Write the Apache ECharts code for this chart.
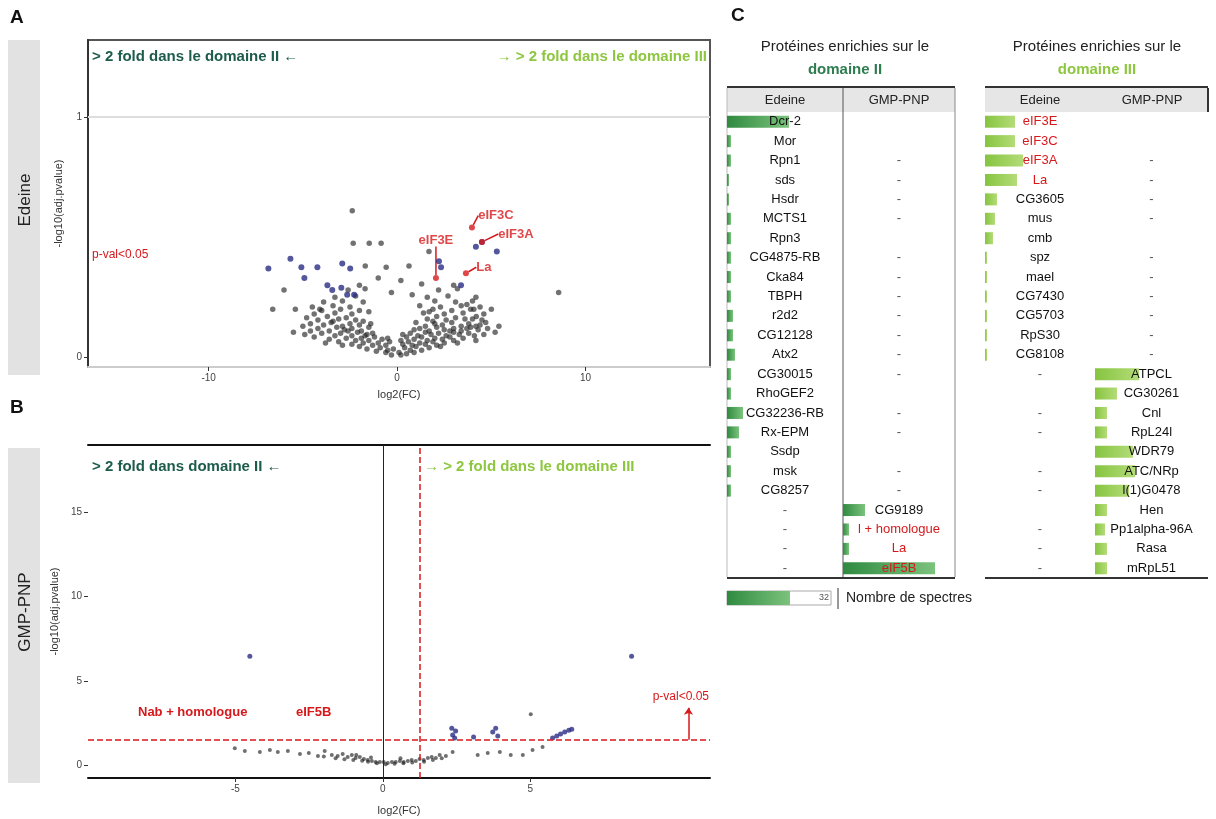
<!DOCTYPE html>
<html>
<head>
<meta charset="utf-8">
<script src="https://cdn.jsdelivr.net/npm/echarts@6/dist/echarts.min.js"></script>
<style>
  html, body { margin: 0; background: #fff; }
  #main { width: 1216px; height: 819px; }
</style>
</head>
<body>
<div id="main"></div>
<script>
// ---- A : Edeine volcano (log2 FC, -log10 adj p) ----
var edeineNS = [
  [-0.3,0.01],[0.2,0.01],[0.5,0.015],[-0.6,0.02],[0.9,0.02],
  [-1.1,0.025],[-0.5,0.03],[0.1,0.02],[0.7,0.03],[1.3,0.03],
  [-1.6,0.035],[-0.9,0.04],[-0.2,0.035],[0.4,0.04],[1.0,0.045],[1.7,0.04],
  [-2.0,0.045],[-1.3,0.05],[-0.6,0.05],[0.3,0.055],[0.8,0.05],[1.5,0.055],[2.1,0.05],
  [-2.4,0.055],[-1.8,0.06],[-1.0,0.06],[-0.4,0.065],[0.6,0.065],[1.2,0.06],[1.9,0.065],[2.5,0.06],
  [-3.1,0.065],[-2.2,0.07],[-1.5,0.07],[-0.8,0.075],[0.2,0.07],[0.9,0.075],[1.6,0.07],[2.4,0.075],[3.0,0.07],
  [-3.6,0.075],[-2.7,0.08],[-1.9,0.08],[-1.2,0.085],[-0.5,0.08],[0.5,0.085],[1.3,0.085],[2.0,0.08],[2.8,0.085],[3.5,0.08],
  [-4.4,0.085],[-3.3,0.09],[-2.4,0.09],[-1.6,0.095],[0.3,0.095],[1.1,0.09],[1.8,0.095],[2.6,0.09],[3.3,0.095],[4.1,0.09],
  [-4.9,0.095],[-4.0,0.1],[-3.0,0.1],[-2.1,0.105],[-1.3,0.1],[0.7,0.1],[1.5,0.105],[2.2,0.1],[3.0,0.105],[3.8,0.1],[4.6,0.095],
  [-5.5,0.105],[-4.6,0.11],[-3.6,0.11],[-2.8,0.115],[-1.9,0.11],[0.9,0.115],[1.7,0.11],[2.5,0.115],[3.4,0.11],[4.3,0.115],[5.2,0.105],
  [-4.2,0.12],[-3.2,0.125],[-2.4,0.12],[-1.5,0.125],[1.2,0.12],[2.1,0.125],[3.0,0.12],[3.9,0.125],[4.8,0.12],
  [-5.0,0.13],[-3.9,0.135],[-2.9,0.13],[-2.0,0.135],[1.5,0.13],[2.4,0.135],[3.4,0.13],[4.4,0.135],[5.4,0.13],
  [-4.6,0.14],[-3.5,0.145],[-2.5,0.14],[-1.8,0.15],[1.0,0.145],[2.0,0.14],[2.9,0.145],[3.8,0.14],[4.7,0.145],
  [-4.2,0.155],[-3.1,0.16],[-2.2,0.155],[1.6,0.16],[2.6,0.155],[3.6,0.16],[4.5,0.155],
  [-4.8,0.165],[-3.7,0.17],[-2.7,0.165],[2.1,0.17],[3.1,0.165],[4.2,0.17],
  [-4.4,0.18],[-3.3,0.185],[-2.4,0.18],[1.4,0.185],[2.5,0.18],[3.5,0.185],[4.6,0.18],
  [-4.0,0.195],[-3.0,0.2],[-2.0,0.195],[1.9,0.2],[2.9,0.195],[3.9,0.2],
  [-4.5,0.21],[-3.4,0.215],[-2.5,0.21],[1.2,0.215],[2.3,0.21],[3.4,0.215],[4.4,0.21],
  [-3.9,0.23],[-2.9,0.235],[-1.8,0.23],[2.0,0.235],[3.1,0.23],[4.0,0.235],
  [-3.3,0.25],[-2.2,0.255],[1.6,0.25],[2.7,0.255],
  [-2.6,0.28],[-1.7,0.285],[2.2,0.28],[3.2,0.285],
  [-2.0,0.3],[1.3,0.305],[3.0,0.3],
  [-2.38,0.61],[-2.33,0.475],[-1.48,0.475],[-0.85,0.475],[-1.69,0.38],[-0.58,0.375],
  [0.63,0.38],[1.69,0.44],[-6.6,0.2],[4.18,0.25],[4.18,0.07],[4.18,0.13],[4.07,0.2],
  [-1.0,0.33],[0.2,0.32],[-0.3,0.27],[0.8,0.26],[-6.0,0.28],[-5.4,0.2],[5.0,0.2],[8.57,0.27],
  [-3.8,0.06],[-2.9,0.05],[-2.6,0.11],[-1.7,0.09],[2.3,0.045],[3.2,0.06],[3.7,0.12],[2.8,0.11],
  [-3.4,0.15],[-1.4,0.14],[1.9,0.15],[4.0,0.16],[-4.1,0.2],[-1.5,0.19],[1.7,0.19],[3.7,0.22]
];
var edeineSig = [
  [-6.83,0.37],[-5.66,0.41],[-5.08,0.375],[-4.92,0.33],[-4.23,0.375],[-3.7,0.30],
  [-3.44,0.28],[-2.91,0.39],[-2.49,0.37],[-2.96,0.29],[-2.65,0.26],[-2.28,0.26],
  [2.33,0.375],[3.39,0.30],[4.18,0.46],[4.5,0.48],[5.29,0.44],[2.22,0.40]
];
var edeineHitNames = ['eIF3E', 'La', 'eIF3C', 'eIF3A'];
var edeineHitX = [2.06, 3.65, 3.97, 4.5];
var edeineHitY = [0.33, 0.35, 0.54, 0.48];

// ---- B : GMP-PNP volcano ----
var gmpNS = [
  [-5.02,1.0],[-4.68,0.83],[-4.17,0.77],[-3.83,0.89],[-3.56,0.77],[-3.22,0.83],[-2.81,0.65],
  [-2.51,0.71],[-2.2,0.53],[-1.97,0.83],[-1.73,0.59],[-1.53,0.53],[-1.36,0.65],[-1.19,0.47],
  [-1.05,0.59],[-0.92,0.41],[-0.78,0.47],[-0.64,0.36],[-0.51,0.3],[-0.37,0.24],[-0.24,0.18],
  [-0.1,0.18],[0.03,0.18],[0.17,0.12],[0.31,0.18],[0.44,0.18],[0.58,0.24],[0.71,0.18],
  [0.85,0.24],[0.98,0.3],[1.12,0.24],[1.25,0.36],[1.39,0.3],[1.53,0.41],[1.66,0.47],
  [1.8,0.41],[1.93,0.59],[2.14,0.53],[2.37,0.77],[3.22,0.59],[3.56,0.71],[3.97,0.77],
  [4.34,0.59],[4.75,0.59],[5.08,0.89],[5.42,1.07],
  [-1.3,0.35],[-1.0,0.3],[-0.7,0.25],[-0.5,0.2],[-0.2,0.1],[0.1,0.05],[0.4,0.08],[0.7,0.1],
  [1.0,0.15],[-1.6,0.4],[-2.0,0.5],[1.4,0.2],[1.7,0.3],[-0.9,0.6],[-0.4,0.45],[0.6,0.4],[2.0,0.4],
  [5.02,3.02]
];
var gmpSig = [
  [-4.51,6.46],[8.44,6.46],[2.34,2.19],[2.47,2.02],[2.37,1.78],[2.44,1.6],[3.08,1.66],
  [3.73,1.96],[3.83,2.19],[3.9,1.72],[5.76,1.6],[5.9,1.72],[6.03,1.84],[6.17,1.96],
  [6.31,2.07],[6.41,2.13]
];

// ---- C : tables (spectra counts) ----
var leftEdeineText = ['Dcr-2','Mor','Rpn1','sds','Hsdr','MCTS1','Rpn3','CG4875-RB','Cka84','TBPH',
  'r2d2','CG12128','Atx2','CG30015','RhoGEF2','CG32236-RB','Rx-EPM','Ssdp','msk','CG8257','-','-','-','-'];
var leftGmpText = ['','','-','-','-','-','','-','-','-','-','-','-','-','','-','-','','-','-',
  'CG9189','l + homologue','La','eIF5B'];
var leftEdeine = [31,2,2,1,1,2,2,2,2,2,3,3,4,2,2,8,6,2,2,2,0,0,0,0];
var leftGmp = [0,0,0,0,0,0,0,0,0,0,0,0,0,0,0,0,0,0,0,0,11,3,3,46];

var rightEdeineText = ['eIF3E','eIF3C','eIF3A','La','CG3605','mus','cmb','spz','mael','CG7430','CG5703',
  'RpS30','CG8108','-','','-','-','','-','-','','-','-','-'];
var rightGmpText = ['','','-','-','-','-','','-','-','-','-','-','-','ATPCL','CG30261','Cnl','RpL24l',
  'WDR79','ATC/NRp','l(1)G0478','Hen','Pp1alpha-96A','Rasa','mRpL51'];
var rightEdeine = [15,15,19,16,6,5,4,1,1,1,1,1,1,0,0,0,0,0,0,0,0,0,0,0];
var rightGmp = [0,0,0,0,0,0,0,0,0,0,0,0,0,22,11,6,6,19,20,17,6,5,6,6];

var redNames = ['eIF3E','eIF3C','eIF3A','La','l + homologue','eIF5B'];

var FONT = 'Liberation Sans, Arial, sans-serif';
var RED = '#d7191c', BLUE = '#2b2d85', DK = '#1d5c4c', LG = '#8dc63f';
var rowIdx = leftEdeine.map(function (v, i) { return i; });

var chart = echarts.init(document.getElementById('main'));

// table column k (0..3) lives in grid k+2, xAxis k+3, yAxis k+2
function tableSeries(k, counts, texts, w, c0, c1) {
  return {
    type: 'bar', xAxisIndex: k + 3, yAxisIndex: k + 2, barWidth: 12, silent: true,
    itemStyle: { color: new echarts.graphic.LinearGradient(0, 0, 1, 0, [
      { offset: 0, color: c0 }, { offset: 1, color: c1 }]) },
    label: {
      show: true, position: [w / 2, '50%'], align: 'center', verticalAlign: 'middle',
      fontSize: 13, fontFamily: FONT,
      formatter: function (p) { return texts[p.dataIndex]; }
    },
    data: counts.map(function (v, i) {
      var t = texts[i];
      return { value: v, label: { color: redNames.indexOf(t) >= 0 ? RED : (t === '-' ? '#555' : '#111') } };
    })
  };
}

var tickLab = { fontSize: 10, color: '#444', fontFamily: FONT };
var tableCols = [[727, 116], [843, 112], [985, 110], [1095, 113]];

var option = {
  animation: false,
  grid: [
    { left: 88, top: 40, width: 622, height: 327, show: true, borderColor: '#555', borderWidth: 2 },
    { left: 88, top: 445, width: 622, height: 333 }
  ].concat(tableCols.map(function (c) { return { left: c[0], top: 112, width: c[1], height: 466 }; })),
  xAxis: [
    { gridIndex: 0, type: 'value', min: -16.4, max: 16.6, name: 'log2(FC)', nameLocation: 'middle', nameGap: 22,
      nameTextStyle: { fontSize: 11, color: '#333', fontFamily: FONT },
      axisLine: { onZero: false, lineStyle: { color: '#ccc', width: 2 } },
      axisTick: { customValues: [-10, 0, 10], lineStyle: { color: '#333' }, length: 4 },
      axisLabel: Object.assign({ customValues: [-10, 0, 10], margin: 6 }, tickLab), splitLine: { show: false } },
    { gridIndex: 1, type: 'value', min: -10, max: 11.1, name: 'log2(FC)', nameLocation: 'middle', nameGap: 27,
      nameTextStyle: { fontSize: 11, color: '#333', fontFamily: FONT },
      axisLine: { onZero: false, lineStyle: { color: '#111', width: 2 } },
      axisTick: { customValues: [-5, 0, 5], lineStyle: { color: '#333' }, length: 4 },
      axisLabel: Object.assign({ customValues: [-5, 0, 5], margin: 6 }, tickLab), splitLine: { show: false } },
    { gridIndex: 1, type: 'value', position: 'top', min: -10, max: 11.1,
      axisLine: { onZero: false, lineStyle: { color: '#111', width: 2 } }, axisTick: { show: false },
      axisLabel: { show: false }, splitLine: { show: false } }
  ].concat(tableCols.map(function (c, i) {
    return { gridIndex: i + 2, type: 'value', min: 0, max: c[1] / 2, show: false };
  })),
  yAxis: [
    { gridIndex: 0, type: 'value', min: -0.04, max: 1.32, name: '-log10(adj.pvalue)', nameLocation: 'middle',
      nameGap: 24, nameTextStyle: { fontSize: 11, color: '#333', fontFamily: FONT },
      axisLine: { show: true, onZero: false, lineStyle: { color: '#333', width: 2 } },
      axisTick: { show: true, customValues: [0, 1], length: 4 },
      axisLabel: Object.assign({ customValues: [0, 1], margin: 6 }, tickLab), splitLine: { show: false } },
    { gridIndex: 1, type: 'value', min: -0.77, max: 19, name: '-log10(adj.pvalue)', nameLocation: 'middle',
      nameGap: 24, nameTextStyle: { fontSize: 11, color: '#333', fontFamily: FONT },
      axisLine: { show: false, onZero: false },
      axisTick: { show: true, customValues: [0, 5, 10, 15], length: 4, lineStyle: { color: '#333' } },
      axisLabel: Object.assign({ customValues: [0, 5, 10, 15], margin: 6 }, tickLab), splitLine: { show: false } }
  ].concat(tableCols.map(function (c, i) {
    return { gridIndex: i + 2, type: 'category', data: rowIdx, inverse: true, show: false };
  })),
  series: [
    { type: 'scatter', xAxisIndex: 0, yAxisIndex: 0, symbolSize: 5.5, data: edeineNS,
      itemStyle: { color: 'rgba(35,35,35,0.8)' },
      markLine: { silent: true, symbol: 'none', label: { show: false },
        lineStyle: { color: '#ddd', width: 2, type: 'solid' }, data: [{ yAxis: 1 }] } },
    { type: 'scatter', xAxisIndex: 0, yAxisIndex: 0, symbolSize: 6, data: edeineSig,
      itemStyle: { color: BLUE } },
    { type: 'scatter', xAxisIndex: 0, yAxisIndex: 0, symbolSize: 6,
      itemStyle: { color: RED },
      data: edeineHitNames.map(function (n, i) { return { name: n, value: [edeineHitX[i], edeineHitY[i]] }; }),
      label: { show: true, formatter: '{b}', color: RED, fontSize: 13, fontWeight: 'bold', fontFamily: FONT },
      labelLine: { show: true, lineStyle: { color: RED, width: 1.5 } },
      labelLayout: function (p) {
        var off = { eIF3E: [0, -38], La: [18, -6], eIF3C: [24, -12], eIF3A: [34, -8] }[edeineHitNames[p.dataIndex]];
        return { dx: off[0], dy: off[1] };
      } },
    { type: 'scatter', xAxisIndex: 1, yAxisIndex: 1, symbolSize: 4, data: gmpNS,
      itemStyle: { color: 'rgba(30,30,30,0.8)' },
      markLine: { silent: true, symbol: 'none', label: { show: false }, data: [
        { xAxis: 0, lineStyle: { color: '#222', width: 1, type: 'solid' } },
        { xAxis: 1.25, lineStyle: { color: RED, width: 1.5, type: 'dashed' } },
        { yAxis: 1.5, lineStyle: { color: RED, width: 1.5, type: 'dashed' } },
        [{ coord: [10.37, 1.5], symbol: 'none', lineStyle: { color: RED, width: 1.5, type: 'solid' } },
         { coord: [10.37, 3.4], symbol: 'arrow', symbolSize: 7 }]
      ] } },
    { type: 'scatter', xAxisIndex: 1, yAxisIndex: 1, symbolSize: 5, data: gmpSig,
      itemStyle: { color: BLUE } },
    tableSeries(0, leftEdeine, leftEdeineText, 116, '#2f8a40', '#7cc37d'),
    tableSeries(1, leftGmp, leftGmpText, 112, '#2f8a40', '#7cc37d'),
    tableSeries(2, rightEdeine, rightEdeineText, 110, '#86c440', '#b4dc78'),
    tableSeries(3, rightGmp, rightGmpText, 113, '#86c440', '#b4dc78')
  ],
  graphic: [
    { type: 'text', left: 10, top: 8, style: { text: 'A', fontSize: 19, fontWeight: 'bold', fontFamily: FONT, fill: '#111' } },
    { type: 'text', left: 10, top: 398, style: { text: 'B', fontSize: 19, fontWeight: 'bold', fontFamily: FONT, fill: '#111' } },
    { type: 'text', left: 731, top: 6, style: { text: 'C', fontSize: 19, fontWeight: 'bold', fontFamily: FONT, fill: '#111' } },
    { type: 'rect', shape: { x: 8, y: 40, width: 32, height: 335 }, style: { fill: '#e2e2e2' } },
    { type: 'rect', shape: { x: 8, y: 448, width: 32, height: 335 }, style: { fill: '#e2e2e2' } },
    { type: 'text', x: 25, y: 200, rotation: Math.PI / 2,
      style: { text: 'Edeine', fontSize: 17, fontFamily: FONT, fill: '#222', align: 'center', verticalAlign: 'middle' } },
    { type: 'text', x: 25, y: 612, rotation: Math.PI / 2,
      style: { text: 'GMP-PNP', fontSize: 17, fontFamily: FONT, fill: '#222', align: 'center', verticalAlign: 'middle' } },
    { type: 'text', x: 92, y: 57, style: { text: '> 2 fold dans le domaine II \u2190', fontSize: 15, fontWeight: 'bold',
      fontFamily: FONT, fill: DK, verticalAlign: 'middle' } },
    { type: 'text', x: 707, y: 57, style: { text: '\u2192 > 2 fold dans le domaine III', fontSize: 15, fontWeight: 'bold',
      fontFamily: FONT, fill: LG, align: 'right', verticalAlign: 'middle' } },
    { type: 'text', x: 92, y: 467, style: { text: '> 2 fold dans domaine II \u2190', fontSize: 15, fontWeight: 'bold',
      fontFamily: FONT, fill: DK, verticalAlign: 'middle' } },
    { type: 'text', x: 424, y: 467, style: { text: '\u2192 > 2 fold dans le domaine III', fontSize: 15, fontWeight: 'bold',
      fontFamily: FONT, fill: LG, verticalAlign: 'middle' } },
    { type: 'text', x: 92, y: 255, style: { text: 'p-val<0.05', fontSize: 12, fontFamily: FONT, fill: RED, verticalAlign: 'middle' } },
    { type: 'text', x: 138, y: 712, style: { text: 'Nab + homologue', fontSize: 13, fontWeight: 'bold', fontFamily: FONT, fill: RED, verticalAlign: 'middle' } },
    { type: 'text', x: 296, y: 712, style: { text: 'eIF5B', fontSize: 13, fontWeight: 'bold', fontFamily: FONT, fill: RED, verticalAlign: 'middle' } },
    { type: 'text', x: 709, y: 697, style: { text: 'p-val<0.05', fontSize: 12, fontFamily: FONT, fill: RED, align: 'right', verticalAlign: 'middle' } },
    { type: 'text', x: 845, y: 47, style: { text: 'Prot\u00e9ines enrichies sur le', fontSize: 15, fontFamily: FONT, fill: '#222', align: 'center', verticalAlign: 'middle' } },
    { type: 'text', x: 845, y: 70, style: { text: 'domaine II', fontSize: 15, fontWeight: 'bold', fontFamily: FONT, fill: '#2e7d50', align: 'center', verticalAlign: 'middle' } },
    { type: 'text', x: 1097, y: 47, style: { text: 'Prot\u00e9ines enrichies sur le', fontSize: 15, fontFamily: FONT, fill: '#222', align: 'center', verticalAlign: 'middle' } },
    { type: 'text', x: 1097, y: 70, style: { text: 'domaine III', fontSize: 15, fontWeight: 'bold', fontFamily: FONT, fill: LG, align: 'center', verticalAlign: 'middle' } },
    { type: 'rect', z: -1, shape: { x: 727, y: 88, width: 228, height: 24 }, style: { fill: '#e6e6e6' } },
    { type: 'rect', z: -1, shape: { x: 985, y: 88, width: 223, height: 24 }, style: { fill: '#e6e6e6' } },
    { type: 'line', shape: { x1: 727, y1: 87, x2: 955, y2: 87 }, style: { stroke: '#333', lineWidth: 2 } },
    { type: 'line', shape: { x1: 985, y1: 87, x2: 1208, y2: 87 }, style: { stroke: '#333', lineWidth: 2 } },
    { type: 'line', shape: { x1: 727, y1: 578, x2: 955, y2: 578 }, style: { stroke: '#333', lineWidth: 2 } },
    { type: 'line', shape: { x1: 985, y1: 578, x2: 1208, y2: 578 }, style: { stroke: '#333', lineWidth: 2 } },
    { type: 'line', shape: { x1: 843, y1: 88, x2: 843, y2: 577 }, style: { stroke: '#555', lineWidth: 1 } },
    { type: 'line', shape: { x1: 727, y1: 88, x2: 727, y2: 577 }, style: { stroke: '#bbb', lineWidth: 1 } },
    { type: 'line', shape: { x1: 955, y1: 88, x2: 955, y2: 577 }, style: { stroke: '#888', lineWidth: 1 } },
    { type: 'line', shape: { x1: 1208, y1: 88, x2: 1208, y2: 112 }, style: { stroke: '#333', lineWidth: 2 } },
    { type: 'text', x: 785, y: 100, style: { text: 'Edeine', fontSize: 13, fontFamily: FONT, fill: '#222', align: 'center', verticalAlign: 'middle' } },
    { type: 'text', x: 899, y: 100, style: { text: 'GMP-PNP', fontSize: 13, fontFamily: FONT, fill: '#222', align: 'center', verticalAlign: 'middle' } },
    { type: 'text', x: 1040, y: 100, style: { text: 'Edeine', fontSize: 13, fontFamily: FONT, fill: '#222', align: 'center', verticalAlign: 'middle' } },
    { type: 'text', x: 1152, y: 100, style: { text: 'GMP-PNP', fontSize: 13, fontFamily: FONT, fill: '#222', align: 'center', verticalAlign: 'middle' } },
    { type: 'rect', shape: { x: 727, y: 591, width: 104, height: 14 }, style: { fill: '#fff', stroke: '#aaa', lineWidth: 1 } },
    { type: 'rect', shape: { x: 727, y: 591, width: 63, height: 14 },
      style: { fill: new echarts.graphic.LinearGradient(0, 0, 1, 0, [{ offset: 0, color: '#2f8a40' }, { offset: 1, color: '#7cc37d' }]) } },
    { type: 'text', x: 829, y: 598, style: { text: '32', fontSize: 9, fontFamily: FONT, fill: '#555', align: 'right', verticalAlign: 'middle' } },
    { type: 'line', shape: { x1: 838, y1: 588, x2: 838, y2: 609 }, style: { stroke: '#333', lineWidth: 1 } },
    { type: 'text', x: 846, y: 598, style: { text: 'Nombre de spectres', fontSize: 14, fontFamily: FONT, fill: '#222', verticalAlign: 'middle' } }
  ]
};
chart.setOption(option);
</script>
</body>
</html>
